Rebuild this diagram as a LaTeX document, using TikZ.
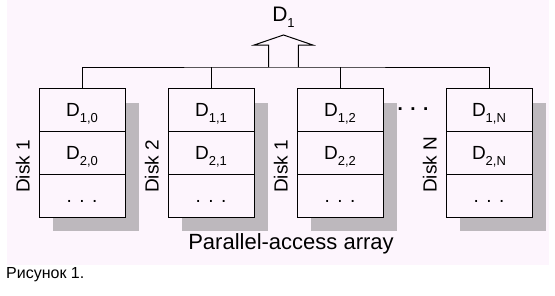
\documentclass[tikz,border=0pt]{standalone}
\usepackage{fontspec}
\setmainfont{Liberation Sans}
\usetikzlibrary{positioning,calc}
\definecolor{Paper}{HTML}{FDF5FD}
\definecolor{Shade}{HTML}{BDB8BD}
\newcommand{\Dsub}[1]{D\raisebox{-6pt}{\fontsize{13pt}{13pt}\selectfont #1}}
\newcommand{\cellfont}{\fontsize{19pt}{22pt}\selectfont}
\tikzset{
  cell/.style={draw=black,fill=Paper,line width=1pt,minimum width=86pt,minimum height=43pt,inner sep=0pt,outer sep=0pt,text height=13pt,text depth=0pt,font=\cellfont},
  shade/.style={fill=Shade},
  wire/.style={draw=black,line width=1pt},
  disklabel/.style={rotate=90,anchor=south west,inner sep=0pt,font=\fontsize{19pt}{22pt}\selectfont},
  caption/.style={inner sep=0pt,font=\fontsize{22pt}{26pt}\selectfont},
  figlabel/.style={anchor=west,inner sep=0pt,font=\fontsize{16pt}{19pt}\selectfont}
}

\begin{document}
\begin{tikzpicture}[x=1pt,y=-1pt]
  \useasboundingbox (0,0) rectangle (555,295);
  \fill[Paper] (7,0) rectangle (549,265);
  % disks with their blocks
  \foreach \x/\n/\lab in {82/0/Disk 1,211/1/Disk 2,340/2/Disk 1,489/N/Disk N}{
    \fill[shade] (\x-29,103) rectangle (\x+57,231);
    \node[cell] (c-\n-1) at (\x,109.5) {\Dsub{1,\n}};
    \node[cell,below=0pt of c-\n-1] (c-\n-2) {\Dsub{2,\n}};
    \node[cell,below=0pt of c-\n-2] (c-\n-3) {.\hspace{7.5pt}.\hspace{7.5pt}.};
    \node[disklabel] (lab-\n) at (\x-52,193) {\lab};
  }
  \node[anchor=base,inner sep=0pt,font=\bfseries\cellfont] (gap) at (413,110.5) {.\hspace{7.5pt}.\hspace{7.5pt}.};
  % bus and output arrow
  \coordinate (bus) at (283.5,67);
  \coordinate (tip) at (283.5,35);
  \draw[wire] (c-0-1.north) |- (bus) -| (c-N-1.north);
  \foreach \n in {1,2} \draw[wire] (c-\n-1.north) -- (c-\n-1.north |- bus);
  \draw[wire,fill=Paper] ($(bus)+(-14.8,0)$) |- ($(tip)+(-29.3,10)$) -- (tip) -- ($(tip)+(29.3,10)$) -| ($(bus)+(14.8,0)$);
  \node[above=7pt of tip,inner sep=0pt,font=\fontsize{21pt}{24pt}\selectfont] (out) {\Dsub{1}};
  \node[caption] (array) at (291,244) {Parallel-access array};
  \node[figlabel] (fig) at (6,275) {Рисунок 1.};
\end{tikzpicture}
\end{document}
